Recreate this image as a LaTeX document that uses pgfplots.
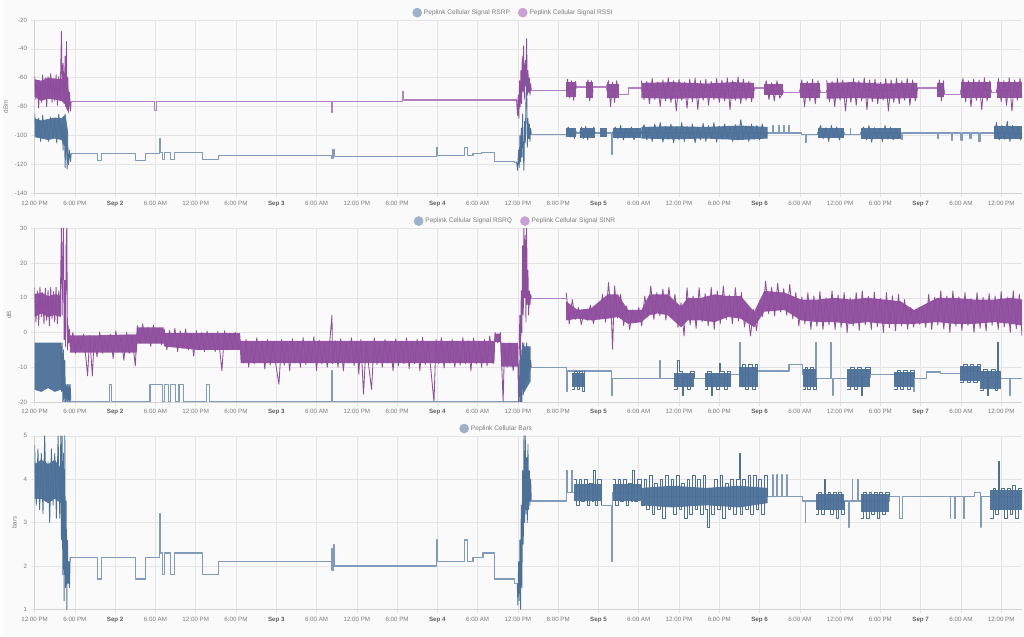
\documentclass[border=0pt]{standalone}
\usepackage{fontspec}
\setmainfont{Liberation Sans}
\usepackage{pgfplots}
\pgfplotsset{compat=1.18}
\definecolor{bg}{RGB}{250,250,250}
\definecolor{gridc}{RGB}{228,228,228}
\definecolor{axisc}{RGB}{210,210,210}
\definecolor{tickc}{RGB}{125,125,125}
\definecolor{datec}{RGB}{95,95,95}
\definecolor{bdark}{RGB}{77,112,153}
\definecolor{blight}{RGB}{128,155,188}
\definecolor{pdark}{RGB}{142,77,157}
\definecolor{plight}{RGB}{180,128,196}
\definecolor{bleg}{RGB}{157,177,202}
\definecolor{pleg}{RGB}{201,160,213}
\pgfplotsset{
  panel/.style={
    scale only axis, width=990pt, height=174pt,
    xmin=0, xmax=147.1,
    xtick={0,6,...,144},
    xticklabels={12:00 PM,6:00 PM,{\color{datec}\bfseries Sep 2},6:00 AM,12:00 PM,6:00 PM,{\color{datec}\bfseries Sep 3},6:00 AM,12:00 PM,6:00 PM,{\color{datec}\bfseries Sep 4},6:00 AM,12:00 PM,6:00 PM,{\color{datec}\bfseries Sep 5},6:00 AM,12:00 PM,6:00 PM,{\color{datec}\bfseries Sep 6},6:00 AM,12:00 PM,6:00 PM,{\color{datec}\bfseries Sep 7},6:00 AM,12:00 PM},
    axis lines=left, axis line style={-, draw=axisc, line width=0.7pt},
    grid=major, grid style={draw=gridc, line width=0.6pt},
    tick align=outside, major tick length=4pt, tick style={draw=gridc, line width=0.6pt},
    /pgf/number format/assume math mode=true,
    ticklabel style={font=\fontsize{6.2}{7}\selectfont, text=tickc},
    ylabel style={font=\fontsize{6.2}{7}\selectfont, text=tickc},
    legend style={draw=none, fill=none, font=\fontsize{6.6}{8}\selectfont, text=tickc, anchor=south, yshift=1pt, inner sep=1pt,
      /tikz/every even column/.append style={column sep=6pt}},
    legend image code/.code={\fill[#1] (0.12cm,0cm) circle (4.6pt);},
    anchor=south west,
    every axis plot/.append style={line join=round, mark=none},
  },
  stepb/.style={const plot, draw=blight, line width=1.2pt, forget plot},
  stepp/.style={const plot, draw=plight, line width=1.2pt, forget plot},
  zigb/.style={draw=bdark, line width=0.85pt, forget plot},
  zigp/.style={draw=pdark, line width=0.85pt, forget plot},
  sqb/.style={const plot, draw=bdark, line width=0.8pt, forget plot},
  fillb/.style={fill=bdark, fill opacity=0.95, draw=none, forget plot},
  fillp/.style={fill=pdark, fill opacity=0.95, draw=none, forget plot},
}
\begin{document}
\begin{tikzpicture}
\fill[bg] (0,0) rectangle (1024pt,638pt);
% ================= PANEL 1 =================
\begin{axis}[panel, at={(32pt,444pt)}, ymin=-140, ymax=-20, ytick={-140,-120,...,-20}, ylabel={dBm},
  legend columns=2, legend style={at={(0.485,1)}}]
\addlegendimage{bleg}\addlegendentry{Peplink Cellular Signal RSRP}
\addlegendimage{pleg}\addlegendentry{Peplink Cellular Signal RSSI}
% RSSI
\addplot[fillp] coordinates {(0,-61)(1,-62)(2,-60)(3,-60.5)(4,-61)(4.5,-56)(4.9,-62)(5.2,-74)(5.2,-80)(4.9,-83)(4.5,-78)(4,-76)(3,-75)(2,-74.5)(1,-76)(0,-73)};
\addplot[zigp] coordinates {(0,-59)(0.2,-75)(0.4,-62)(0.6,-81)(0.8,-64)(1.0,-77)(1.2,-58)(1.4,-74)(1.6,-60)(1.8,-80)(2.0,-59)(2.2,-73)(2.4,-57)(2.6,-77)(2.8,-61)(3.0,-76)(3.2,-58)(3.4,-79)(3.6,-59)(3.8,-76)(4.0,-28)(4.1,-70)(4.25,-50)(4.4,-78)(4.55,-45)(4.65,-80)(4.75,-35)(4.85,-82)(4.95,-60)(5.05,-84)(5.2,-70)(5.35,-83)(5.45,-76.3)};
\addplot[stepp] coordinates {(5.45,-76.3)(17.9,-82.5)(18.1,-76.3)(44.25,-84)(44.4,-76.3)(54.8,-69.5)(54.95,-75.3)(71.8,-75.3)};
\addplot[zigp] coordinates {(71.8,-75.3)(71.95,-86)(72.05,-72)(72.15,-88)(72.25,-62)(72.35,-80)(72.45,-55)(72.55,-78)(72.65,-45)(72.75,-70)(72.85,-38)(72.95,-75)(73.1,-48)(73.2,-66)(73.3,-33)(73.4,-72)(73.5,-55)(73.6,-70)(73.7,-60)(73.8,-72)(73.9,-64)(74.0,-69)};
\addplot[stepp] coordinates {(74,-69)(79.2,-67)(80.7,-66.4)(85.2,-69)(87.0,-71.3)(88.5,-67.1)(90.4,-69)(107.2,-67.1)(108.7,-69)(111.5,-70)(114.0,-69)(117.0,-70)(118.0,-69)(131.5,-67.1)(134.5,-69)(135.5,-71.3)(138.0,-69)(142.5,-70)(143.3,-69)(147.1,-69)};
\addplot[fillp] coordinates {(79.2,-63)(80.7,-63)(80.7,-73)(79.2,-73)};
\addplot[fillp] coordinates {(82.2,-63)(83.2,-63)(83.2,-74)(82.2,-74)};
\addplot[fillp] coordinates {(85.2,-64)(87.0,-64)(87.0,-74)(85.2,-74)};
\addplot[fillp] coordinates {(90.4,-63.5)(95,-63)(100,-64)(104,-63)(107.2,-63.5)(107.2,-74)(104,-74.5)(100,-74)(95,-74.5)(90.4,-74)};
\addplot[fillp] coordinates {(108.7,-64)(111.5,-64)(111.5,-72)(108.7,-72)};
\addplot[fillp] coordinates {(114.0,-63.5)(117.0,-63.5)(117.0,-74)(114.0,-74)};
\addplot[fillp] coordinates {(118.0,-63.5)(122,-63)(126,-64)(131.5,-63.5)(131.5,-74)(126,-74.5)(122,-74)(118.0,-74.5)};
\addplot[fillp] coordinates {(134.5,-63.5)(135.5,-63.5)(135.5,-73)(134.5,-73)};
\addplot[fillp] coordinates {(138.0,-63)(142.5,-63)(142.5,-74)(138.0,-74)};
\addplot[fillp] coordinates {(143.3,-63)(147.1,-63)(147.1,-74)(143.3,-74)};
\addplot[zigp] coordinates {(79.2,-69)(79.4,-61)(79.7,-74)(80.0,-62)(80.3,-75.5)(80.6,-62.5)(80.7,-66.4)};
\addplot[zigp] coordinates {(82.2,-66)(82.45,-61.5)(82.7,-76)(82.95,-62)(83.2,-70)};
\addplot[zigp] coordinates {(85.2,-66)(85.5,-62)(85.8,-80)(86.1,-63)(86.4,-77)(86.7,-62)(87.0,-71)};
\addplot[zigp] coordinates {(90.4,-62)(90.8,-75)(91.2,-62.5)(91.6,-78)(92.0,-60.5)(92.4,-75)(92.8,-63)(93.2,-80)(93.6,-61.5)(94.0,-76)(94.4,-60)(94.8,-77)(95.2,-62)(95.6,-83)(96.0,-61)(96.4,-75.5)(96.8,-63)(97.2,-81)(97.6,-61)(98.0,-76.5)(98.4,-60.3)(98.8,-82)(99.2,-62)(99.6,-75.5)(100.0,-61)(100.4,-79)(100.8,-62.5)(101.2,-75)(101.6,-60.5)(102.0,-77)(102.4,-61.5)(102.8,-76)(103.2,-60)(103.6,-82)(104.0,-62)(104.4,-75.5)(104.8,-59.5)(105.2,-78)(105.6,-61)(106.0,-75.5)(106.4,-62.5)(106.8,-76.5)(107.2,-67)};
\addplot[zigp] coordinates {(108.7,-69)(109.0,-62)(109.4,-75)(109.8,-63.5)(110.2,-76)(110.6,-62)(111.0,-74)(111.5,-70)};
\addplot[zigp] coordinates {(114.0,-69)(114.3,-61.5)(114.7,-80)(115.1,-62.5)(115.5,-76)(115.9,-61)(116.3,-78)(116.7,-62)(117.0,-70)};
\addplot[zigp] coordinates {(118.0,-61.5)(118.4,-76.5)(118.8,-62.5)(119.2,-80)(119.6,-60.5)(120.0,-75.5)(120.4,-61.5)(120.8,-83)(121.2,-63)(121.6,-77)(122.0,-60.5)(122.4,-79)(122.8,-62)(123.2,-76)(123.6,-60)(124.0,-82)(124.4,-61.5)(124.8,-76.5)(125.2,-61)(125.6,-78)(126.0,-63)(126.4,-75.5)(126.8,-60.5)(127.2,-83)(127.6,-61.5)(128.0,-77)(128.4,-60.3)(128.8,-78)(129.2,-62)(129.6,-75.5)(130.0,-60.5)(130.4,-79)(130.8,-61.5)(131.2,-76)(131.5,-67)};
\addplot[zigp] coordinates {(134.5,-69)(134.8,-61.5)(135.1,-76)(135.4,-62)(135.5,-71)};
\addplot[zigp] coordinates {(138.0,-69)(138.3,-60.5)(138.7,-76.5)(139.1,-62)(139.5,-80)(139.9,-61)(140.3,-75.5)(140.7,-61.5)(141.1,-82)(141.5,-60)(141.9,-76)(142.3,-62)(142.5,-70)};
\addplot[zigp] coordinates {(143.3,-70)(143.6,-60.5)(144.0,-76.5)(144.4,-62)(144.8,-79)(145.2,-60)(145.6,-83)(146.0,-61.5)(146.4,-75.5)(146.8,-60.5)(147.1,-74)};
% RSRP
\addplot[fillb] coordinates {(0,-88)(1,-89.5)(2,-88.5)(3,-87.5)(4,-88)(4.6,-85)(5.0,-98)(5.0,-118)(4.6,-108)(4,-103)(3,-102)(2,-103)(1,-102)(0,-101)};
\addplot[zigb] coordinates {(0,-85)(0.3,-101)(0.6,-88)(0.9,-104)(1.2,-86)(1.5,-100)(1.8,-90)(2.1,-104)(2.4,-87)(2.7,-102)(3.0,-89)(3.3,-105)(3.6,-85)(3.9,-101)(4.1,-93)(4.25,-110)(4.4,-90)(4.55,-122)(4.7,-95)(4.85,-123)(4.95,-108)(5.05,-120)(5.2,-110)(5.35,-118)(5.45,-112.6)};
\addplot[stepb] coordinates {(5.45,-112.6)(9.36,-117.2)(9.96,-112.6)(15.06,-117.2)(16.55,-112.6)(18.63,-102.3)(18.7,-111.5)(19.02,-116.6)(19.37,-111.5)(20.26,-116.6)(20.9,-111.5)(24.97,-116.6)(27.45,-113.6)(44.29,-115.5)(44.45,-109.7)(44.63,-114.7)(59.9,-108)(60.0,-113.6)(64.1,-108)(64.45,-113.6)(65.3,-112.6)(66.6,-111.5)(68.55,-117.7)(71.5,-118.7)(71.8,-118.7)};
\addplot[zigb] coordinates {(71.8,-118)(71.95,-124)(72.1,-110)(72.2,-122)(72.3,-100)(72.4,-118)(72.5,-95)(72.6,-115)(72.7,-85)(72.8,-112)(72.9,-124)(73.0,-90)(73.1,-105)(73.2,-75)(73.3,-60)(73.4,-108)(73.5,-88)(73.6,-102)(73.7,-92)(73.8,-104)(73.9,-95)(74.0,-99.3)};
\addplot[stepb] coordinates {(74,-99.3)(79.2,-97)(80.7,-98.2)(85.95,-113)(86.05,-98.2)(109.2,-98.2)(110.0,-93)(110.1,-98.2)(110.8,-93)(110.9,-98.2)(111.6,-93)(111.7,-98.2)(112.3,-93)(112.4,-98.2)(114.2,-99.3)(114.8,-104.6)(115.0,-99.3)(116.7,-98)(120.6,-99.3)(121.5,-95)(121.6,-99.3)(123.1,-98.2)(129.0,-98.2)(129.1,-102.8)(129.3,-98.2)(134.5,-102)(134.7,-98.2)(136.6,-103)(136.8,-98.2)(138.0,-103)(138.2,-98.2)(139.3,-102)(139.5,-98.2)(140.7,-104)(140.9,-98.2)(147.1,-98.2)};
\addplot[fillb] coordinates {(79.2,-95)(80.7,-95)(80.7,-101)(79.2,-101)};
\addplot[fillb] coordinates {(81.2,-94.5)(83.5,-94.5)(83.5,-101.5)(81.2,-101.5)};
\addplot[fillb] coordinates {(84.2,-95)(85.2,-95)(85.2,-101)(84.2,-101)};
\addplot[fillb] coordinates {(86.1,-94.5)(90.4,-94.5)(90.4,-101.5)(86.1,-101.5)};
\addplot[fillb] coordinates {(90.4,-94)(95,-93.5)(100,-94)(105,-93)(109.2,-94)(109.2,-102)(105,-103)(100,-102)(95,-102.5)(90.4,-102)};
\addplot[fillb] coordinates {(116.7,-95)(120.6,-95)(120.6,-101.5)(116.7,-101.5)};
\addplot[fillb] coordinates {(123.1,-95)(129.0,-95)(129.0,-102)(123.1,-102)};
\addplot[fillb] coordinates {(143.0,-93.5)(147.1,-93.5)(147.1,-102.5)(143.0,-102.5)};
\addplot[zigb] coordinates {(79.2,-97)(79.5,-94)(79.8,-101)(80.1,-95)(80.4,-102)(80.7,-98)};
\addplot[zigb] coordinates {(81.2,-98)(81.5,-94)(81.8,-102)(82.1,-93.5)(82.4,-103)(82.7,-95)(83.0,-101)(83.3,-94)(83.5,-98)};
\addplot[zigb] coordinates {(86.1,-98)(86.5,-94)(86.9,-102)(87.3,-93)(87.7,-103)(88.1,-95)(88.5,-101)(88.9,-94)(89.3,-103)(89.7,-95)(90.1,-101)(90.4,-98)};
\addplot[zigb] coordinates {(90.4,-98)(90.8,-92.5)(91.2,-103)(91.6,-94)(92.0,-104)(92.4,-92)(92.8,-101.5)(93.2,-91)(93.6,-104.5)(94.0,-93.5)(94.4,-102.5)(94.8,-92)(95.2,-105)(95.6,-94)(96.0,-103)(96.4,-91)(96.8,-104)(97.2,-93.5)(97.6,-101.5)(98.0,-92)(98.4,-105)(98.8,-94)(99.2,-103)(99.6,-91.5)(100.0,-104)(100.4,-93)(100.8,-102)(101.2,-91)(101.6,-104.5)(102.0,-93.5)(102.4,-102.5)(102.8,-92)(103.2,-101.5)(103.6,-94)(104.0,-104)(104.4,-92.5)(104.8,-103)(105.2,-89)(105.6,-102)(106.0,-93.5)(106.4,-104)(106.8,-92)(107.2,-102.5)(107.6,-93)(108.0,-103)(108.4,-92)(108.8,-101)(109.2,-98.2)};
\addplot[zigb] coordinates {(116.7,-98)(117.1,-93)(117.5,-102)(117.9,-94.5)(118.3,-104)(118.7,-93)(119.1,-101.5)(119.5,-94)(119.9,-103)(120.3,-95)(120.6,-99.3)};
\addplot[zigb] coordinates {(123.1,-98)(123.5,-94)(123.9,-103)(124.3,-93)(124.7,-104.5)(125.1,-94.5)(125.5,-102)(125.9,-95)(126.3,-104)(126.7,-93)(127.1,-102.5)(127.5,-94)(127.9,-103)(128.3,-95)(128.7,-102)(129.0,-98.2)};
\addplot[zigb] coordinates {(143.0,-98)(143.3,-91)(143.7,-103)(144.1,-93)(144.5,-102.5)(144.9,-90)(145.3,-104)(145.7,-93)(146.1,-102)(146.5,-94)(146.9,-103)(147.1,-98)};
\end{axis}
% ================= PANEL 2 =================
\begin{axis}[panel, at={(32pt,235pt)}, ymin=-20, ymax=30, ytick={-20,-10,...,30}, ylabel={dB},
  legend columns=2, legend style={at={(0.487,1)}}]
\addlegendimage{bleg}\addlegendentry{Peplink Cellular Signal RSRQ}
\addlegendimage{pleg}\addlegendentry{Peplink Cellular Signal SINR}
% SINR
\addplot[fillp] coordinates {(0,11)(1,11.5)(2,10.5)(3,11)(3.9,10.5)(3.9,4.5)(3,5)(2,4.5)(1,5.5)(0,4.5)};
\addplot[zigp] coordinates {(0,13)(0.2,3)(0.4,12)(0.6,2)(0.8,13.2)(1.0,4.5)(1.2,11.5)(1.4,2.5)(1.6,12.8)(1.8,3.5)(2.0,12.2)(2.2,1.9)(2.4,13)(2.6,4)(2.8,11.8)(3.0,3)(3.2,13)(3.4,2.5)(3.6,12)(3.8,5)(4.0,31)(4.1,5)(4.2,20)(4.3,31)(4.4,-2)(4.5,15)(4.6,-4)(4.7,25)(4.8,31)(4.9,-5)(5.0,2)(5.1,-3)(5.2,1)(5.3,-4)};
\addplot[fillp] coordinates {(5.3,-0.8)(9.4,-0.8)(15.2,-0.5)(15.3,1.5)(19.2,1.5)(19.3,-0.2)(24.2,-0.2)(30.6,-0.2)(30.7,-2.4)(40,-2.4)(50,-2.4)(60,-2.4)(68.5,-2.4)(68.6,-0.3)(69.4,-0.3)(69.5,-3)(72.0,-3)(72.0,-9.8)(69.5,-9.8)(69.4,-2.8)(68.6,-2.8)(68.5,-8.8)(60,-8.8)(50,-8.8)(40,-8.8)(30.7,-8.8)(30.6,-5)(24.2,-5)(19.3,-4)(19.2,-3.2)(15.3,-3.2)(15.2,-5.8)(9.4,-5.8)(5.3,-5.8)};
\addplot[zigp] coordinates {(5.3,-4)(5.7,0)(6.1,-6)(6.5,-1.5)(6.9,-5)(7.3,-0.5)(7.9,-12.5)(8.2,-0.8)(8.6,-12.5)(8.9,-1)(9.3,-7)(9.7,0.2)(10.1,-6)(10.5,-1.5)(10.9,-5.5)(11.3,-0.5)(11.7,-7.5)(12.1,0.5)(12.5,-5.5)(12.9,-1.2)(13.3,-8)(13.7,0)(14.1,-6)(14.5,-1)(15.0,-9.6)(15.3,2)(15.7,-3)(16.1,2.5)(16.5,-2.6)(16.9,1.5)(17.3,-4)(17.7,2.2)(18.1,-3)(18.5,1.2)(18.9,-3.5)(19.3,1)(19.7,-5)(20.1,0.6)(20.5,-4)(20.9,1.2)(21.3,-5.5)(21.7,0.5)(22.1,-4.5)(22.5,1)(22.9,-5)(23.3,-0.2)(23.7,-6.8)(24.1,0.5)(24.5,-5)(24.9,0)(25.3,-5.5)(25.7,0.4)(26.1,-4.5)(26.5,-0.4)(26.9,-5.5)(27.3,0.3)(27.9,-11)(28.3,0.5)(28.7,-5)(29.1,-0.3)(29.5,-4.6)(29.9,0)(30.3,-5)(30.7,-2.4)(31.1,-8.8)(31.5,-2)(31.9,-10)(32.3,-3)(32.7,-9)(33.1,-1.5)(33.5,-8.6)(33.9,-2.6)(34.3,-10.5)(34.7,-2)(35.1,-9.4)(35.5,-3)(35.9,-8.8)(36.4,-14.9)(36.8,-2)(37.2,-9.4)(37.6,-2.6)(38.0,-11)(38.4,-1.8)(38.8,-8.8)(39.2,-2.8)(39.6,-10)(40.0,-1.5)(40.4,-9.2)(40.8,-2.5)(41.2,-8.7)(41.6,-1.2)(42.0,-11)(42.4,-2.2)(42.8,-9)(43.2,-3)(43.6,-10)(44.0,-2)(44.3,5)(44.4,-9)(44.8,-2.4)(45.2,-10)(45.6,-1.8)(46.0,-11)(46.4,-2.8)(46.8,-8.8)(47.2,-1.5)(47.6,-9.5)(48.0,-2.5)(48.3,-12)(48.6,-2)(49.0,-17.8)(49.4,-2.6)(49.8,-10)(50.2,-16.4)(50.6,-1.5)(51.0,-9.2)(51.4,-2.8)(51.8,-10)(52.2,-2)(52.6,-8.8)(53.0,-3)(53.4,-11)(53.8,-1.8)(54.2,-9.6)(54.6,-2.5)(55.0,-9)(55.4,-1.5)(55.8,-10.4)(56.2,-2.6)(56.6,-9)(57.0,-2)(57.4,-11)(57.8,-1.4)(58.2,-9.2)(58.6,-2.8)(59.0,-10)(59.5,-20)(59.8,-2)(60.2,-9)(60.6,-1.5)(61.0,-10.2)(61.4,-2.6)(61.8,-8.8)(62.2,-2)(62.6,-10)(63.0,-2.8)(63.4,-9.4)(63.8,-1.5)(64.2,-9)(64.6,-2.4)(65.0,-11)(65.4,-1.6)(65.8,-9)(66.2,-2.5)(66.6,-10)(67.0,-2)(67.4,-9.6)(67.8,-1)(68.3,-9)(68.6,0)(69.0,-3)(69.4,0)(69.8,-20)(70.0,-4)(70.4,-10)(70.8,-3)(71.3,-11)(71.8,-4)(72.0,-9)};
\addplot[zigp] coordinates {(72.0,-9)(72.1,-20)(72.2,-2)(72.3,5)(72.4,-8)(72.5,12)(72.6,0)(72.7,25)(72.8,5)(72.9,31)(73.0,10)(73.1,28)(73.2,3)(73.3,31)(73.4,8)(73.5,18)(73.6,5)(73.7,12)(73.8,8)(73.9,11)(74.0,9.9)};
\addplot[stepp] coordinates {(74,9.9)(79.2,9.9)};
\addplot[fillp] coordinates {(79.2,9)(80.9,6.5)(82.9,7)(85.4,11)(86.9,11)(88.4,6.5)(90.4,6.5)(91.6,11)(92.8,11)(94.3,11)(96.3,7.5)(97.3,10)(99.3,10)(101.3,11)(103.3,10.5)(105.2,10.5)(107.2,6)(108.7,12)(111.7,11.5)(114.2,9.5)(116.7,9.5)(119.1,10)(121.6,9.5)(124.1,10)(126.6,9.5)(129.0,9)(131.0,6.5)(134.5,10)(137.0,10)(140.0,9.5)(143.0,9.5)(145.5,10)(147.1,9.5)(147.1,2)(145.5,2.5)(143.0,3)(140.0,2.5)(137.0,2.5)(134.5,3)(131.0,2.5)(129.0,2.5)(126.6,2.5)(124.1,3)(121.6,2.5)(119.1,3)(116.7,3)(114.2,3.5)(111.7,6.5)(108.7,6)(107.2,1.5)(105.2,4)(103.3,4.5)(101.3,3)(99.3,3.5)(97.3,3.5)(96.3,1.5)(94.3,5)(92.8,5.5)(91.6,5)(90.4,3)(88.4,2.5)(86.9,4.5)(85.4,4)(82.9,3.5)(80.9,4)(79.2,3.5)};
\addplot[zigp] coordinates {(79.2,11.5)(79.65,2.5)(80.1,9.5)(80.55,3.8)(81.0,7.2)(81.45,2.3)(81.9,6.4)(82.35,3.5)(82.8,7.9)(83.25,2.6)(83.7,6.8)(84.15,3.9)(84.6,11)(85.05,3)(85.5,14.4)(85.95,3.5)(86.1,-4.8)(86.4,13.4)(86.85,4.2)(87.3,11)(87.75,2)(88.2,7.6)(88.65,0.9)(89.1,6.5)(89.55,2.8)(90.0,7.2)(90.45,1.9)(90.9,10.5)(91.35,4.5)(91.8,13.4)(92.25,3.8)(92.7,11.5)(93.15,4.8)(93.6,12.5)(94.05,3.6)(94.5,13)(94.95,4.4)(95.4,11)(95.85,1.5)(96.3,8.6)(96.75,-1)(97.2,12.9)(97.65,2.2)(98.1,10.5)(98.55,1.2)(99.0,12.9)(99.45,3.1)(99.9,11.2)(100.35,1.9)(100.8,13)(101.25,0.9)(101.7,12)(102.15,2.6)(102.6,13.4)(103.05,3.8)(103.5,10.8)(103.95,2.5)(104.4,12.9)(104.85,3.3)(105.3,11.5)(105.75,1.6)(106.2,7)(106.65,-1)(107.1,6.7)(107.55,0.5)(108.0,9)(108.45,4.6)(108.9,14.8)(109.35,5.5)(109.8,13)(110.25,4.8)(110.7,14.2)(111.15,5.9)(111.6,12.6)(112.05,5)(112.5,13.9)(112.95,4)(113.4,11.5)(113.85,1.9)(114.3,10.2)(114.75,2.5)(115.2,11.5)(115.65,0.9)(116.1,10.5)(116.55,1.8)(117.0,11.8)(117.45,0.9)(117.9,10)(118.35,2.2)(118.8,12)(119.25,0.9)(119.7,10.8)(120.15,1.5)(120.6,11.5)(121.05,0)(121.5,10)(121.95,1.9)(122.4,11.5)(122.85,0.6)(123.3,12)(123.75,2.2)(124.2,10.4)(124.65,0.9)(125.1,11.6)(125.55,1.7)(126.0,9.8)(126.45,0)(126.9,11.5)(127.35,1.4)(127.8,10.6)(128.25,0.5)(128.7,11)(129.15,1.9)(129.6,9.5)(130.05,1)(130.5,7.2)(130.95,1.6)(131.4,6.4)(131.85,2.4)(132.3,7)(132.75,1.5)(133.2,11)(133.65,0.9)(134.1,10.2)(134.55,2.2)(135.0,12)(135.45,1)(135.9,10.5)(136.35,0)(136.8,12)(137.25,1.8)(137.7,10.3)(138.15,0.6)(138.6,11.5)(139.05,2)(139.5,9.8)(139.95,0)(140.4,11.5)(140.85,1.2)(141.3,10.1)(141.75,0.4)(142.2,11.2)(142.65,2.1)(143.1,10.5)(143.55,0.9)(144.0,11.8)(144.45,1.6)(144.9,10.2)(145.35,0)(145.8,12)(146.25,1.1)(146.7,11)(147.1,-1)};
% RSRQ
\addplot[fillb] coordinates {(0,-2.9)(3.9,-2.9)(3.9,-16.5)(3,-17.1)(2,-16)(1,-17.1)(0,-16.5)};
\addplot[zigb] coordinates {(3.9,-3)(4.0,-17)(4.1,-3)(4.2,-20)(4.3,-5)(4.4,-20)(4.5,-8)(4.6,-20)(4.7,-15)(4.8,-20)(4.9,-15)(5.0,-20)(5.1,-15)(5.2,-20)(5.3,-15)(5.4,-20)};
\addplot[stepb] coordinates {(5.4,-20)(11.1,-14.9)(11.5,-20)(17.2,-14.9)(19.0,-20)(19.3,-14.9)(19.9,-20)(20.3,-14.9)(21.0,-20)(21.5,-14.9)(22.2,-20)(25.6,-14.9)(26.0,-20)(44.25,-11.1)(44.35,-20)(72.0,-20)};
\addplot[fillb] coordinates {(72.7,-4)(73.9,-4)(73.9,-14)(72.7,-18)};
\addplot[zigb] coordinates {(72.0,-20)(72.2,-20)(72.3,-8)(72.4,-20)(72.5,-5)(72.6,-20)(72.7,-3)(72.8,-18)(72.9,-3)(73.0,-16)(73.1,-5)(73.2,-15)(73.3,-3)(73.4,-14)(73.5,-4)(73.6,-12)(73.7,-6)(73.8,-11)(73.9,-8)(74.0,-10.1)};
\addplot[stepb] coordinates {(74,-10.1)(79.2,-11.1)(79.3,-17)(79.4,-11.1)(86.0,-18.1)(86.1,-13.2)(93.1,-8.2)(93.2,-13.2)(103.7,-12.0)(105.0,-2.9)(105.1,-12)(107.7,-11.1)(112.4,-9.2)(114.4,-12)(116.4,-2.9)(116.5,-13.2)(118.6,-2.9)(118.7,-13.2)(118.9,-18)(119.0,-13.2)(121.1,-13)(124.5,-12.0)(128.0,-12)(131.0,-16.9)(131.1,-13.2)(132.9,-11.4)(135,-11.8)(137.9,-11.1)(140.9,-13)(143.5,-2.9)(143.6,-13)(143.9,-13.2)(145.3,-18.1)(145.4,-13.2)(147.1,-13.2)};
\addplot[fillb] coordinates {(80.0,-11.6)(81.9,-11.6)(81.9,-15.8)(80.0,-15.8)};
\addplot[fillb] coordinates {(95.3,-11.6)(98.3,-11.6)(98.3,-15.8)(95.3,-15.8)};
\addplot[fillb] coordinates {(99.8,-11.6)(103.7,-11.6)(103.7,-15.8)(99.8,-15.8)};
\addplot[fillb] coordinates {(105.0,-10)(107.7,-10)(107.7,-15.8)(105.0,-15.8)};
\addplot[fillb] coordinates {(114.4,-10.5)(116.4,-10.5)(116.4,-15.8)(114.4,-15.8)};
\addplot[fillb] coordinates {(121.1,-10.5)(124.5,-10.5)(124.5,-15.8)(121.1,-15.8)};
\addplot[fillb] coordinates {(128.0,-11.5)(131.0,-11.5)(131.0,-15.8)(128.0,-15.8)};
\addplot[fillb] coordinates {(137.9,-9.7)(140.9,-9.7)(140.9,-14)(137.9,-14)};
\addplot[fillb] coordinates {(140.9,-11)(143.9,-11)(143.9,-16.2)(140.9,-16.2)};
\addplot[sqb] coordinates {(80.0,-16.4)(80.4,-11.1)(80.8,-16.4)(81.2,-11.1)(81.6,-17)(81.9,-11.1)};
\addplot[sqb] coordinates {(95.3,-16.4)(95.8,-8)(96.0,-11.1)(96.5,-18)(96.7,-13)(97.2,-16.4)(97.7,-11.1)(98.3,-13.2)};
\addplot[sqb] coordinates {(99.8,-16.4)(100.3,-11.1)(100.8,-18)(101.0,-13)(101.5,-16.4)(102.0,-9)(102.2,-11.1)(102.7,-16.4)(103.2,-11.1)(103.7,-12)};
\addplot[sqb] coordinates {(105.0,-15.4)(105.4,-9.2)(105.9,-16.4)(106.4,-9.2)(106.9,-16.4)(107.4,-9.2)(107.7,-11.1)};
\addplot[sqb] coordinates {(114.4,-16.4)(114.8,-10)(115.2,-16.4)(115.6,-10)(116.0,-16.4)(116.4,-13.2)};
\addplot[sqb] coordinates {(121.1,-16.4)(121.6,-10)(122.1,-16.4)(122.6,-10)(123.1,-18)(123.3,-13)(123.8,-10)(124.5,-12)};
\addplot[sqb] coordinates {(128.0,-16.4)(128.5,-11)(129.0,-16.4)(129.5,-11)(130.0,-16.4)(130.5,-11)(131.0,-13.2)};
\addplot[sqb] coordinates {(137.9,-14.4)(138.4,-9.2)(138.9,-14.4)(139.4,-9.2)(139.9,-14.4)(140.4,-9.2)(140.9,-13)};
\addplot[sqb] coordinates {(140.9,-16.8)(141.4,-10.5)(141.9,-18)(142.1,-13)(142.6,-10.5)(143.1,-16.8)(143.5,-2.9)(143.6,-13.2)};
\end{axis}
% ================= PANEL 3 =================
\begin{axis}[panel, at={(32pt,27pt)}, ymin=1, ymax=5, ytick={1,2,3,4,5}, ylabel={bars},
  legend columns=1, legend style={at={(0.468,1)}}]
\addlegendimage{bleg}\addlegendentry{Peplink Cellular Bars}
\addplot[fillb] coordinates {(0,4.35)(1,4.45)(2,4.35)(3,4.45)(3.9,4.25)(3.9,3.45)(3,3.55)(2,3.45)(1,3.55)(0,3.55)};
\addplot[zigb] coordinates {(0,4.8)(0.25,3.4)(0.5,4.7)(0.75,3.3)(1.0,4.6)(1.25,3.2)(1.5,5.0)(1.75,3.5)(2.0,4.4)(2.25,3.0)(2.5,4.7)(2.75,3.4)(3.0,4.6)(3.25,3.1)(3.5,5.0)(3.75,3.1)(3.9,5.0)(4.0,2.6)(4.1,5.0)(4.2,1.8)(4.3,4.6)(4.4,1.2)(4.5,5.0)(4.6,1.5)(4.7,3.5)(4.8,1.0)(4.9,2.6)(5.0,1.6)(5.1,2.1)(5.2,1.5)(5.3,2.2)};
\addplot[stepb] coordinates {(5.3,2.2)(9.36,1.7)(9.96,2.2)(15.06,1.7)(16.55,2.2)(18.63,3.2)(18.7,2.3)(19.02,1.8)(19.37,2.3)(20.26,1.8)(20.9,2.3)(24.97,1.8)(27.45,2.1)(44.2,2.4)(44.3,1.9)(44.5,2.5)(44.6,2.0)(59.9,2.6)(60.0,2.1)(64.1,2.6)(64.45,2.1)(65.3,2.2)(66.8,2.3)(68.55,1.7)(71.5,1.6)(71.9,1.6)};
\addplot[zigb] coordinates {(71.9,1.6)(72.0,1.1)(72.1,2.1)(72.2,1.2)(72.3,2.6)(72.4,1.0)(72.5,3.4)(72.6,1.5)(72.7,4.2)(72.8,2.5)(72.9,5.0)(73.0,3.0)(73.1,5.0)(73.2,3.2)(73.3,4.5)(73.4,3.0)(73.5,4.8)(73.6,3.3)(73.7,4.2)(73.8,3.4)(73.9,4.0)(74.0,3.5)};
\addplot[stepb] coordinates {(74,3.5)(79.2,3.7)(79.3,4.2)(79.4,3.7)(80.0,4.2)(80.1,3.7)(84.4,3.4)(85.95,2.1)(86.05,3.4)(86.1,3.7)(90.4,3.6)(109.9,4.1)(110.0,3.6)(110.6,4.1)(110.7,3.6)(111.3,4.1)(111.4,3.6)(112.0,4.1)(112.1,3.6)(114.4,3.5)(114.8,3.0)(114.9,3.5)(121.3,2.9)(121.4,3.5)(121.8,4.0)(121.9,3.5)(122.6,4.0)(122.7,3.5)(127.3,3.6)(128.8,3.1)(129.3,3.6)(136.4,3.1)(136.5,3.6)(137.1,3.1)(137.2,3.6)(138.4,3.1)(138.5,3.6)(140.0,3.7)(140.9,2.9)(141.0,3.6)(147.1,3.6)};
\addplot[fillb] coordinates {(80.3,3.5)(84.4,3.5)(84.4,3.9)(80.3,3.9)};
\addplot[fillb] coordinates {(86.1,3.5)(90.4,3.5)(90.4,3.9)(86.1,3.9)};
\addplot[fillb] coordinates {(90.4,3.4)(95,3.35)(100,3.4)(105,3.35)(109.2,3.45)(109.2,3.8)(105,3.85)(100,3.8)(95,3.85)(90.4,3.8)};
\addplot[fillb] coordinates {(116.4,3.3)(120.6,3.3)(120.6,3.65)(116.4,3.65)};
\addplot[fillb] coordinates {(123.1,3.25)(127.3,3.25)(127.3,3.65)(123.1,3.65)};
\addplot[fillb] coordinates {(142.4,3.3)(147.1,3.3)(147.1,3.75)(142.4,3.75)};
\addplot[sqb] coordinates {(80.3,4.0)(80.7,3.4)(81.1,4.0)(81.5,3.5)(81.9,4.0)(82.3,3.4)(82.7,3.9)(83.1,3.5)(83.3,4.2)(83.5,3.4)(83.9,4.0)(84.4,3.4)};
\addplot[sqb] coordinates {(86.1,4.0)(86.5,3.4)(86.9,4.0)(87.3,3.5)(87.7,4.0)(88.1,3.4)(88.5,3.9)(88.9,3.5)(89.1,4.2)(89.3,3.5)(89.8,4.0)(90.4,3.4)};
\addplot[sqb] coordinates {(90.4,3.4)(90.8,4.0)(91.2,3.3)(91.6,4.1)(92.0,3.2)(92.4,3.9)(92.8,3.3)(93.2,4.0)(93.6,3.1)(94.0,4.1)(94.4,3.4)(94.8,4.0)(95.2,3.2)(95.6,4.1)(96.0,3.3)(96.4,3.9)(96.8,3.1)(97.2,4.0)(97.6,3.2)(98.0,4.1)(98.4,3.3)(98.8,4.0)(99.2,3.2)(99.6,4.1)(100.0,3.3)(100.3,2.9)(100.5,3.8)(100.9,3.2)(101.3,4.0)(101.7,3.3)(102.1,4.1)(102.5,3.1)(102.9,3.9)(103.3,3.3)(103.7,4.0)(104.1,3.2)(104.5,4.0)(105.0,4.6)(105.1,3.2)(105.5,4.0)(105.9,3.3)(106.3,4.1)(106.7,3.2)(107.1,4.1)(107.5,3.3)(107.9,4.0)(108.3,3.2)(108.7,4.1)(109.2,3.6)};
\addplot[sqb] coordinates {(116.4,3.2)(116.8,3.7)(117.2,3.2)(117.6,4.0)(117.8,3.3)(118.2,3.7)(118.6,3.2)(119.0,3.7)(119.4,3.1)(119.8,3.7)(120.2,3.2)(120.6,3.5)};
\addplot[sqb] coordinates {(123.1,3.1)(123.5,3.7)(123.9,3.1)(124.3,3.7)(124.7,3.2)(125.1,3.7)(125.5,3.1)(125.9,3.7)(126.3,3.2)(126.7,3.7)(127.3,3.6)};
\addplot[sqb] coordinates {(142.4,3.1)(142.8,3.8)(143.2,3.2)(143.6,4.4)(143.7,3.3)(144.1,3.8)(144.5,3.1)(144.9,3.8)(145.3,3.2)(145.7,3.85)(146.1,3.1)(146.5,3.8)(147.1,3.7)};
\end{axis}
\end{tikzpicture}
\end{document}
